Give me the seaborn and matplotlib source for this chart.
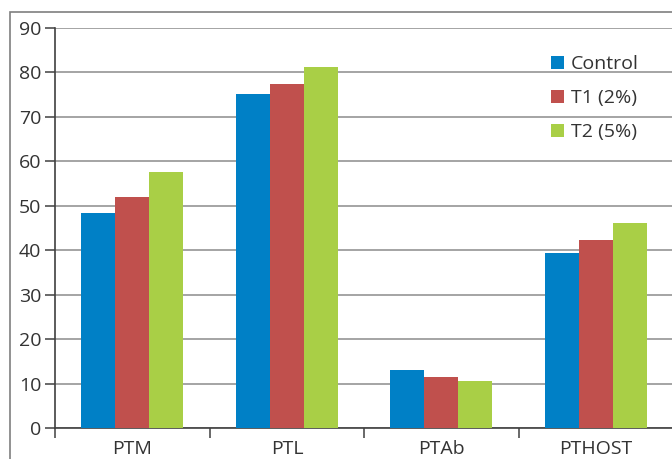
import numpy as np
import matplotlib.pyplot as plt
import pandas as pd
import seaborn as sns
from matplotlib.patches import Rectangle

# categories and series
categories = ["PTM", "PTL", "PTAb", "PTHOST"]
control = [48.3, 75.1, 13.1, 39.3]
t1 = [52.0, 77.4, 11.5, 42.2]
t2 = [57.6, 81.2, 10.6, 46.1]
series = ["Control", "T1 (2%)", "T2 (5%)"]
colors = ["#0080C6", "#C0504D", "#A9CF46"]

data = pd.DataFrame({
    "cat": categories * 3,
    "val": control + t1 + t2,
    "grp": [series[0]] * 4 + [series[1]] * 4 + [series[2]] * 4,
})

sns.set_style("white")
plt.rcParams["font.family"] = ["Open Sans", "DejaVu Sans"]

fig = plt.figure(figsize=(6.72, 4.59), dpi=100)
ax = fig.add_axes([55 / 672, 1 - 428 / 459, 1 - 55 / 672 + 0.002, 400 / 459])

sns.barplot(data=data, x="cat", y="val", hue="grp", palette=colors,
            width=0.66, gap=0, saturation=1, linewidth=0, ax=ax, zorder=3)

ax.set_ylim(0, 90)
ax.set_xlim(-0.5, 3.5)
ax.set_yticks(np.arange(0, 91, 10))
ax.yaxis.grid(True, color="#8c8c8c", linewidth=1.1)
ax.set_axisbelow(True)
ax.set_xlabel("")
ax.set_ylabel("")

for s in ["top", "right"]:
    ax.spines[s].set_visible(False)
ax.spines["left"].set_color("#404040")
ax.spines["bottom"].set_color("#404040")
ax.spines["left"].set_linewidth(1.2)
ax.spines["bottom"].set_linewidth(1.2)

ax.tick_params(axis="y", direction="out", length=7, width=1.1, color="#404040",
               labelsize=14, labelcolor="#333333", pad=3, left=True)
ax.tick_params(axis="x", which="major", length=0, labelsize=14,
               labelcolor="#333333", pad=9)
ax.set_xticks([-0.5, 0.5, 1.5, 2.5, 3.5], minor=True)
ax.tick_params(axis="x", which="minor", direction="out", length=7, width=1.1,
               color="#404040", bottom=True)

ax.legend(frameon=False, loc="upper left", bbox_to_anchor=(0.802, 0.932),
          borderaxespad=0, borderpad=0,
          fontsize=14, handlelength=0.68, handleheight=0.68, handletextpad=0.35,
          labelspacing=0.83, labelcolor="#333333")

# outer chart frame
fig.patches.append(Rectangle((10 / 672, -0.1), 1.2, 1 - 12 / 459 + 0.1,
                             transform=fig.transFigure, fill=False,
                             edgecolor="#7f7f7f", linewidth=1.2))

fig.savefig("out.png", dpi=100)
